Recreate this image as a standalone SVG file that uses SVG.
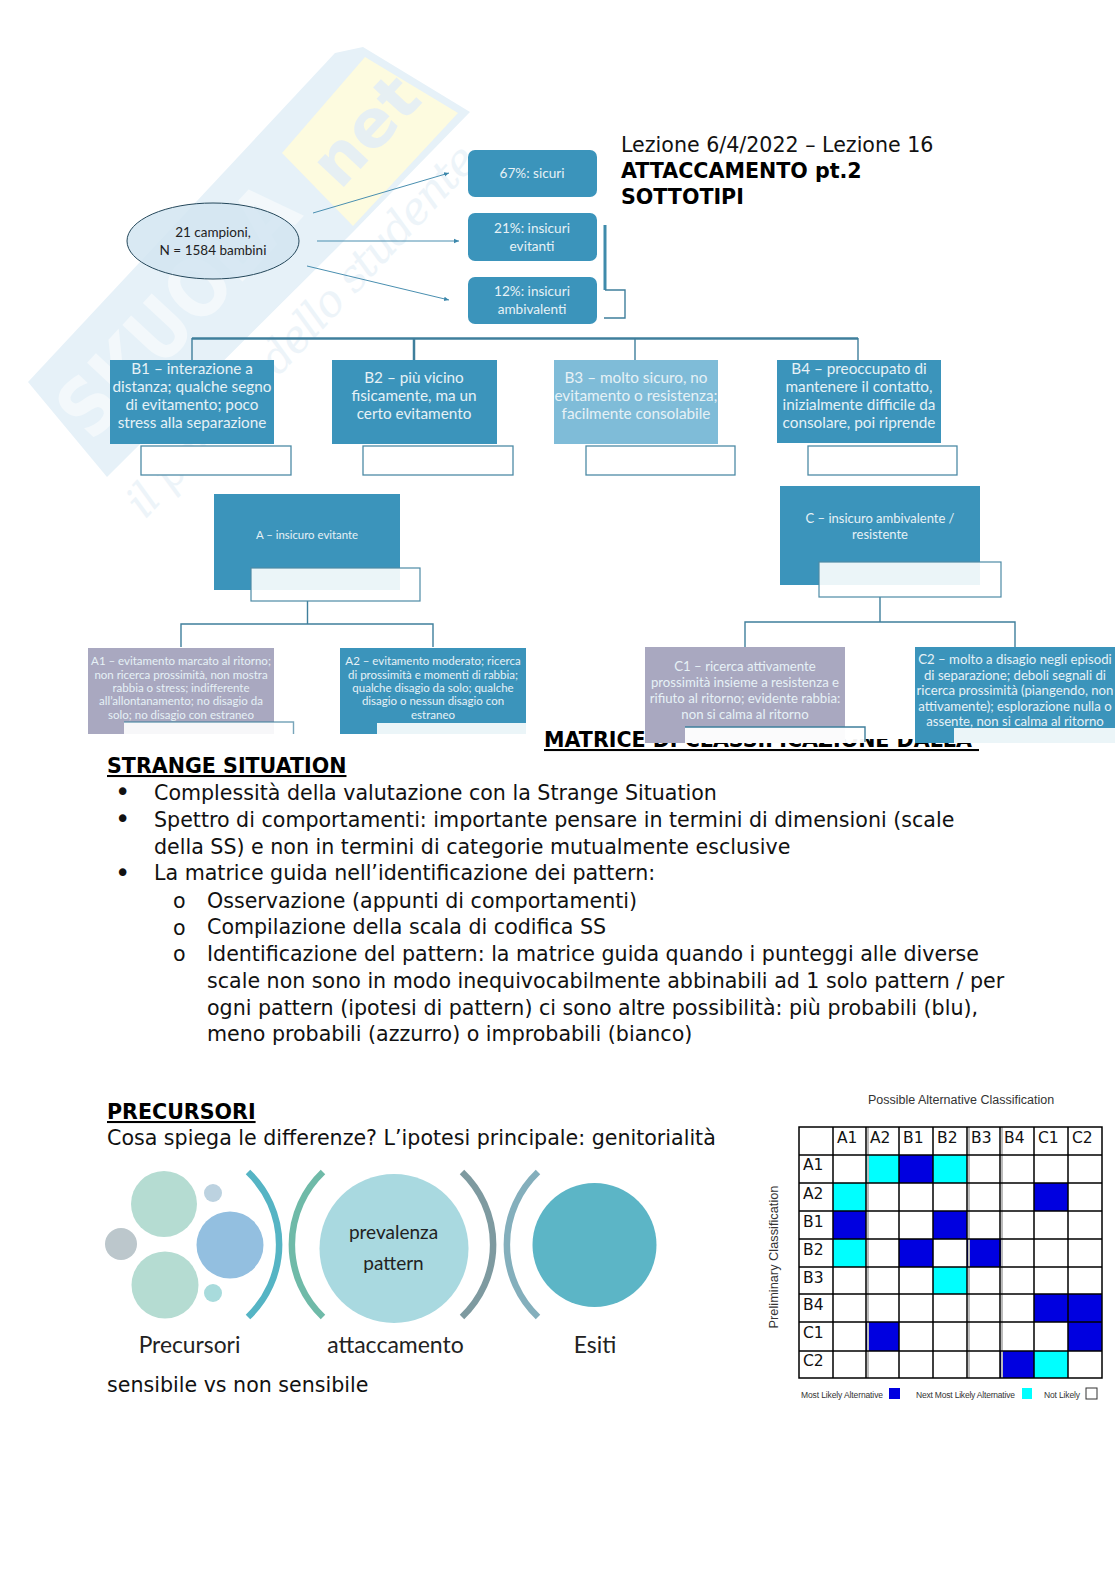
<svg xmlns="http://www.w3.org/2000/svg" width="1116" height="1579" viewBox="0 0 1116 1579">
<style>
text{font-family:"DejaVu Sans",sans-serif;fill:#111}
.d{font-size:20.6px}
.b{font-weight:700;font-size:20.6px;fill:#000}
.u{text-decoration:underline}
.n{font-family:Lato,"Open Sans",sans-serif;fill:#e6f1f6;text-anchor:middle}
.s14{font-size:15.3px}
.s13{font-size:13.6px}
.s12{font-size:13.2px}
.s11{font-size:11.4px}
.s10{font-size:11.5px}
.k{font-family:Lato,"Open Sans",sans-serif;fill:#222;text-anchor:middle}
.blue{fill:#3b94bb}
.ov{fill:#fff;fill-opacity:.9}
.bx{fill:#fff;stroke:#4d8ba6;stroke-width:1.3}
.ln{fill:none;stroke:#3f7f9c;stroke-width:1.4}
.ar{fill:none;stroke:#4a8fb0;stroke-width:1}
.arc{fill:none;stroke-width:6.5}
.gl{fill:none;stroke:#000;stroke-width:1.5}
.gc{font-family:"Liberation Serif",serif;font-size:15.5px;fill:#333}
.gs{font-family:"Liberation Sans",sans-serif;fill:#333}
.bu{font-size:26px}
.wm{font-weight:700}
</style>
<defs>
<marker id="ah" markerWidth="6" markerHeight="6" refX="5" refY="3" orient="auto"><path d="M0 .8L5 3L0 5.2z" fill="#3b87ab"/></marker>
</defs>

<g id="watermark">
<polygon points="28,382 335,53 363,47 470,112 353,232 107,477" fill="#e6f1f8"/>
<polygon points="282,153 365,57 458,113 353,226" fill="#fdfbdf"/>
<text class="wm" transform="translate(92,443) rotate(-47)" font-size="80" style="fill:#f3f8fb" textLength="311" lengthAdjust="spacingAndGlyphs">SKUOLA</text>
<text class="wm" transform="translate(340,191) rotate(-47)" font-size="66" style="fill:#e6eff3">net</text>
<text transform="translate(145,520) rotate(-47)" font-size="44" font-style="italic" style="font-family:'DejaVu Serif',serif;fill:#edf4f9" textLength="490">il portale dello studente</text>
</g>

<g id="title">
<text class="d" x="621" y="152">Lezione 6/4/2022 – Lezione 16</text>
<text class="b" x="621" y="177.500">ATTACCAMENTO pt.2</text>
<text class="b" x="621" y="203.500">SOTTOTIPI</text>
</g>

<g id="connectors">
<path class="ar" d="M313 213L449 173" marker-end="url(#ah)"/>
<path class="ar" d="M317 241L459 241" marker-end="url(#ah)"/>
<path class="ar" d="M307 266L449 300" marker-end="url(#ah)"/>
<path d="M605 225V290" stroke="#3f8bab" stroke-width="3" fill="none"/>
<path class="ln" d="M605 290H625V318H604"/>
<path d="M192 338.500H858" stroke="#3f7f9c" stroke-width="2.500" fill="none"/>
<path class="ln" d="M192 338V360M635 338V360M858 338V360"/>
<path d="M414 338V360" stroke="#3f7f9c" stroke-width="2.500" fill="none"/>
<path class="ln" d="M307.500 601V624M181 647V624H433V647"/>
<path class="ln" d="M880 597V622M745 647V622H1015V647"/>
</g>

<g id="n-ellipse">
<ellipse cx="213" cy="241" rx="86" ry="38" fill="#d2e5f1" fill-opacity=".85" stroke="#24475a" stroke-width="1"/>
<text class="k" x="213" y="236.500" font-size="13.500">21 campioni,</text>
<text class="k" x="213" y="254.500" font-size="13.500">N = 1584 bambini</text>
</g>
<g id="n-67"><rect class="blue" x="468" y="150" width="129" height="47" rx="7"/><text class="n s13" x="532" y="178">67%: sicuri</text></g>
<g id="n-21"><rect class="blue" x="468" y="213" width="129" height="48" rx="7"/><text class="n s13" x="532" y="233">21%: insicuri</text><text class="n s13" x="532" y="251">evitanti</text></g>
<g id="n-12"><rect class="blue" x="468" y="277" width="129" height="47" rx="7"/><text class="n s13" x="532" y="296">12%: insicuri</text><text class="n s13" x="532" y="314">ambivalenti</text></g>

<g id="n-b1"><rect class="blue" x="110" y="360" width="164" height="84"/>
<text class="n s14" x="192" y="374">B1 – interazione a</text><text class="n s14" x="192" y="392">distanza; qualche segno</text><text class="n s14" x="192" y="410">di evitamento; poco</text><text class="n s14" x="192" y="428">stress alla separazione</text></g>
<g id="n-b2"><rect class="blue" x="332" y="360" width="165" height="84"/>
<text class="n s14" x="414" y="383">B2 – più vicino</text><text class="n s14" x="414" y="401">fisicamente, ma un</text><text class="n s14" x="414" y="419">certo evitamento</text></g>
<g id="n-b3"><rect x="554" y="360" width="164" height="84" fill="#7fbcd8"/>
<text class="n s14" x="636" y="383">B3 – molto sicuro, no</text><text class="n s14" x="636" y="401">evitamento o resistenza;</text><text class="n s14" x="636" y="419">facilmente consolabile</text></g>
<g id="n-b4"><rect class="blue" x="777" y="360" width="164" height="83"/>
<text class="n s14" x="859" y="374">B4 – preoccupato di</text><text class="n s14" x="859" y="392">mantenere il contatto,</text><text class="n s14" x="859" y="410">inizialmente difficile da</text><text class="n s14" x="859" y="428">consolare, poi riprende</text></g>
<g id="empty-boxes">
<rect class="bx" x="141" y="446" width="150" height="29"/>
<rect class="bx" x="363" y="446" width="150" height="29"/>
<rect class="bx" x="586" y="446" width="149" height="29"/>
<rect class="bx" x="808" y="446" width="149" height="29"/>
</g>

<g id="n-a"><rect class="blue" x="214" y="494" width="186" height="96"/><text class="n s11" x="307" y="539">A – insicuro evitante</text>
<rect x="251" y="568" width="169" height="33" fill="#fff" fill-opacity=".9" stroke="#4d8ba6" stroke-width="1.200"/></g>
<g id="n-c"><rect class="blue" x="780" y="486" width="200" height="99"/><text class="n" font-size="13" x="880" y="523">C – insicuro ambivalente /</text><text class="n" font-size="13" x="880" y="539">resistente</text>
<rect x="819" y="562" width="182" height="35" fill="#fff" fill-opacity=".9" stroke="#4d8ba6" stroke-width="1.200"/></g>

<g id="n-matrice-title">
<text class="b u" x="544" y="747" style="white-space:pre">MATRICE DI CLASSIFICAZIONE DALLA </text>
<rect x="645" y="700" width="471" height="39" fill="#fff"/>
</g>

<g id="n-a1"><rect x="88" y="648" width="186" height="86" fill="#a9a8c0"/>
<g class="s10"><text class="n" x="181" y="665">A1 – evitamento marcato al ritorno;</text><text class="n" x="181" y="679">non ricerca prossimità, non mostra</text><text class="n" x="181" y="692">rabbia o stress; indifferente</text><text class="n" x="181" y="705">all’allontanamento; no disagio da</text><text class="n" x="181" y="719">solo; no disagio con estraneo</text></g>
<rect class="ov" x="124" y="722" width="170" height="12"/><path class="ln" d="M124 722H293.500V734" stroke-opacity=".7"/></g>
<g id="n-a2"><rect class="blue" x="340" y="648" width="186" height="86"/>
<g class="s10"><text class="n" x="433" y="665">A2 – evitamento moderato; ricerca</text><text class="n" x="433" y="679">di prossimità e momenti di rabbia;</text><text class="n" x="433" y="692">qualche disagio da solo; qualche</text><text class="n" x="433" y="705">disagio o nessun disagio con</text><text class="n" x="433" y="719">estraneo</text></g>
<rect class="ov" x="377" y="723" width="149" height="11"/></g>
<g id="n-c1"><rect x="645" y="647" width="200" height="96" fill="#a9a8c0"/>
<g class="s12"><text class="n" x="745" y="671">C1 – ricerca attivamente</text><text class="n" x="745" y="687">prossimità insieme a resistenza e</text><text class="n" x="745" y="703">rifiuto al ritorno; evidente rabbia:</text><text class="n" x="745" y="719">non si calma al ritorno</text></g>
<rect class="ov" x="685" y="727" width="180" height="16" style="fill-opacity:.95"/><path class="ln" d="M685 727H865V742"/></g>
<g id="n-c2"><rect class="blue" x="915" y="647" width="200" height="96"/>
<g class="s12"><text class="n" x="1015" y="664">C2 – molto a disagio negli episodi</text><text class="n" x="1015" y="680">di separazione; deboli segnali di</text><text class="n" x="1015" y="695">ricerca prossimità (piangendo, non</text><text class="n" x="1015" y="711">attivamente); esplorazione nulla o</text><text class="n" x="1015" y="726">assente, non si calma al ritorno</text></g>
<rect class="ov" x="954" y="728" width="162" height="15"/></g>

<g id="body">
<text class="b u" x="107" y="773">STRANGE SITUATION</text>
<text class="bu" x="115" y="801">•</text><text class="d" x="154" y="799.500">Complessità della valutazione con la Strange Situation</text>
<text class="bu" x="115" y="828">•</text><text class="d" x="154" y="826.800">Spettro di comportamenti: importante pensare in termini di dimensioni (scale</text>
<text class="d" x="154" y="853.500">della SS) e non in termini di categorie mutualmente esclusive</text>
<text class="bu" x="115" y="881.500">•</text><text class="d" x="154" y="880.300">La matrice guida nell’identificazione dei pattern:</text>
<text class="d" x="173" y="907.500">o</text><text class="d" x="207" y="907.500">Osservazione (appunti di comportamenti)</text>
<text class="d" x="173" y="934.500">o</text><text class="d" x="207" y="934.300">Compilazione della scala di codifica SS</text>
<text class="d" x="173" y="961">o</text><text class="d" x="207" y="961.200">Identificazione del pattern: la matrice guida quando i punteggi alle diverse</text>
<text class="d" x="207" y="988">scale non sono in modo inequivocabilmente abbinabili ad 1 solo pattern / per</text>
<text class="d" x="207" y="1014.800">ogni pattern (ipotesi di pattern) ci sono altre possibilità: più probabili (blu),</text>
<text class="d" x="207" y="1041">meno probabili (azzurro) o improbabili (bianco)</text>
<text class="b u" x="107" y="1119">PRECURSORI</text>
<text class="d" x="107" y="1145">Cosa spiega le differenze? L’ipotesi principale: genitorialità</text>
<text class="d" x="107" y="1392">sensibile vs non sensibile</text>
</g>

<g id="process">
<circle cx="164" cy="1204" r="33" fill="#b5dcd2"/>
<circle cx="165" cy="1285" r="33.500" fill="#b5dcd2"/>
<circle cx="230" cy="1245" r="33.500" fill="#93bfe0"/>
<circle cx="121" cy="1244" r="16" fill="#bcc7cc"/>
<circle cx="213" cy="1193" r="9" fill="#bcd2e0"/>
<circle cx="213" cy="1293" r="9" fill="#a8dbdc"/>
<path class="arc" stroke="#55b4c4" d="M248 1172A100 100 0 0 1 248 1317"/>
<path class="arc" stroke="#6fbaa8" d="M323 1172A100 100 0 0 0 323 1317"/>
<circle cx="394" cy="1248.500" r="74.500" fill="#a9d9e0"/>
<path class="arc" stroke="#7e9aa0" d="M462 1172A100 100 0 0 1 462 1317"/>
<path class="arc" stroke="#84afbc" d="M538 1172A100 100 0 0 0 538 1317"/>
<circle cx="594.500" cy="1245" r="62" fill="#5cb5c6"/>
<text class="k" x="393.500" y="1239" font-size="19">prevalenza</text>
<text class="k" x="393.500" y="1270" font-size="19">pattern</text>
<text class="k" x="189.500" y="1353" font-size="22.800">Precursori</text>
<text class="k" x="395.500" y="1353" font-size="23">attaccamento</text>
<text class="k" x="595" y="1353" font-size="22.800">Esiti</text>
</g>

<g id="matrix">
<text class="gs" x="961" y="1104" font-size="12.500" text-anchor="middle">Possible Alternative Classification</text>
<text class="gs" transform="translate(778,1257) rotate(-90)" font-size="12.800" text-anchor="middle">Preliminary Classification</text>
<g fill="#0000e0">
<rect x="899" y="1155" width="34" height="28"/>
<rect x="1034" y="1183" width="34" height="28"/>
<rect x="833" y="1211" width="33" height="28"/><rect x="933" y="1211" width="34" height="28"/>
<rect x="899" y="1239" width="34" height="28"/><rect x="967" y="1239" width="34" height="28"/>
<rect x="1034" y="1294" width="34" height="28"/><rect x="1068" y="1294" width="34" height="28"/>
<rect x="866" y="1322" width="33" height="29"/><rect x="1068" y="1322" width="34" height="29"/>
<rect x="1000" y="1351" width="34" height="27"/>
</g>
<g fill="#00ffff">
<rect x="866" y="1155" width="33" height="28"/><rect x="933" y="1155" width="34" height="28"/>
<rect x="833" y="1183" width="33" height="28"/>
<rect x="833" y="1239" width="33" height="28"/>
<rect x="933" y="1267" width="34" height="27"/>
<rect x="1034" y="1351" width="34" height="27"/>
</g>
<path d="M868 1127V1378M969 1127V1378M1002 1127V1378" stroke="#bbb" stroke-width="2" fill="none"/>
<path class="gl" d="M799 1127H1102V1378H799zM833 1127V1378M866 1127V1378M899 1127V1378M933 1127V1378M967 1127V1378M1000 1127V1378M1034 1127V1378M1068 1127V1378M799 1155H1102M799 1183H1102M799 1211H1102M799 1239H1102M799 1267H1102M799 1294H1102M799 1322H1102M799 1351H1102"/>
<g class="gc">
<text x="837" y="1143">A1</text><text x="870" y="1143">A2</text><text x="903" y="1143">B1</text><text x="937" y="1143">B2</text><text x="971" y="1143">B3</text><text x="1004" y="1143">B4</text><text x="1038" y="1143">C1</text><text x="1072" y="1143">C2</text>
<text x="803" y="1170">A1</text><text x="803" y="1199">A2</text><text x="803" y="1227">B1</text><text x="803" y="1255">B2</text><text x="803" y="1283">B3</text><text x="803" y="1310">B4</text><text x="803" y="1338">C1</text><text x="803" y="1366">C2</text>
</g>
<text class="gs" x="801" y="1398" font-size="8.500" textLength="82">Most Likely Alternative</text>
<rect x="889" y="1388" width="11" height="11" fill="#0000e0"/>
<text class="gs" x="916" y="1398" font-size="8.500" textLength="99">Next Most Likely Alternative</text>
<rect x="1022" y="1388" width="10" height="11" fill="#00ffff"/>
<text class="gs" x="1044" y="1398" font-size="8.500" textLength="36">Not Likely</text>
<rect x="1086" y="1388" width="11" height="11" fill="#fff" stroke="#333"/>
</g>
</svg>
